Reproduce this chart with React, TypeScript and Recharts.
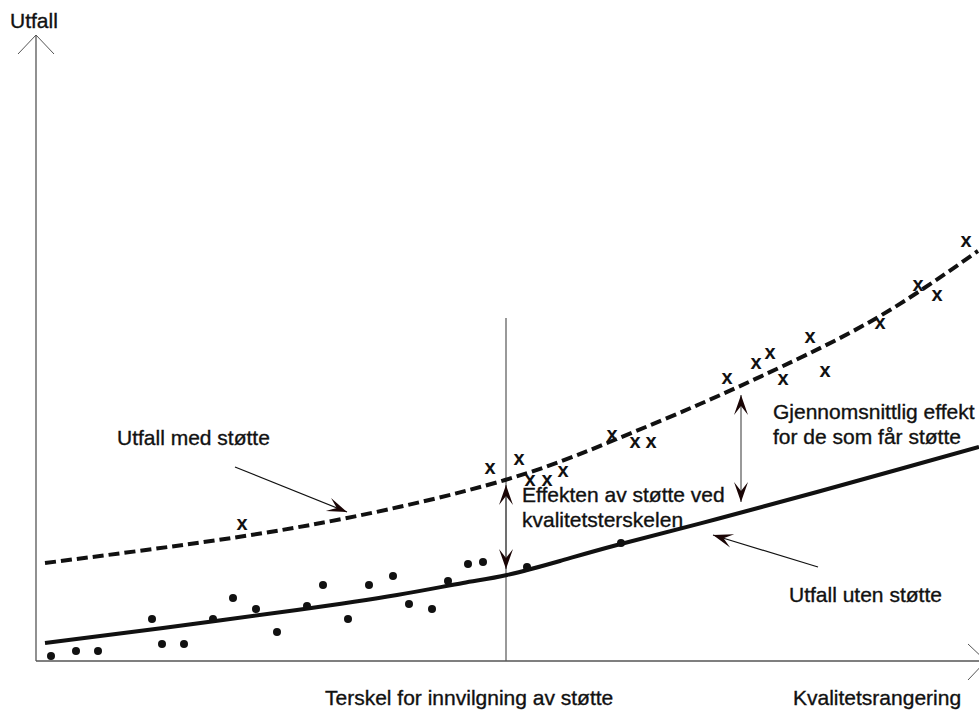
import {
  ComposedChart,
  Line,
  Scatter,
  XAxis,
  YAxis,
  ReferenceLine,
  ReferenceDot,
} from "recharts";

const WIDTH = 979;
const HEIGHT = 711;
const INK = "#111";
const HEAD = "#1a0505";
const AXIS = "#555";
const FONT = '"Liberation Sans", Arial, sans-serif';

// quality rank runs 0..943 to the right, outcome 0..623 upwards
const X_MAX = 943;
const Y_MAX = 623;
const THRESHOLD = 470;

const withSupportRank = [9, 161, 311, 469, 576, 664, 747, 844, 942];
const withSupportLevel = [98, 118, 143, 181, 220, 257, 295, 345, 410];

const withoutSupportRank = [9, 127, 261, 361, 427, 471, 524, 581, 681, 781, 864, 943];
const withoutSupportLevel = [18, 33, 51, 66, 78, 86, 100, 116, 142, 169, 192, 214];

// supported projects (x markers)
const crossRank = [206, 454, 483, 494, 511, 527, 576, 599, 615, 691, 720, 734, 747, 774, 789, 844, 882, 901, 930];
const crossLevel = [137, 193, 202, 181, 181, 190, 226, 219, 219, 283, 298, 308, 282, 324, 290, 338, 376, 366, 420];

// unsupported projects (dots)
const dotRank = [15, 40, 62, 116, 126, 148, 177, 197, 220, 241, 271, 287, 312, 333, 357, 373, 396, 412, 432, 447, 491, 585];
const dotLevel = [5, 10, 10, 42, 17, 17, 42, 63, 52, 29, 55, 76, 42, 76, 85, 57, 52, 80, 97, 99, 94, 118];

type Label = { text: string; x: number; y: number };
const labels: Label[] = [
  { text: "Utfall", x: -26, y: 633 },
  { text: "Utfall med støtte", x: 81, y: 216 },
  { text: "Gjennomsnittlig effekt", x: 737, y: 242 },
  { text: "for de som får støtte", x: 737, y: 217 },
  { text: "Effekten av støtte ved", x: 486, y: 159 },
  { text: "kvalitetsterskelen", x: 486, y: 134 },
  { text: "Utfall uten støtte", x: 753, y: 59 },
  { text: "Terskel for innvilgning av støtte", x: 289, y: -44 },
  { text: "Kvalitetsrangering", x: 757, y: -44 },
];

const zip = (xs: number[], ys: number[]) => xs.map((x, i) => ({ x, y: ys[i] }));

function headPath(tx: number, ty: number, fx: number, fy: number, len = 20, half = 7, notch = 11) {
  const d = Math.hypot(tx - fx, ty - fy) || 1;
  const ux = (tx - fx) / d;
  const uy = (ty - fy) / d;
  const px = -uy;
  const py = ux;
  const bx = tx - ux * len;
  const by = ty - uy * len;
  const nx = tx - ux * notch;
  const ny = ty - uy * notch;
  return `M${tx},${ty} L${bx + px * half},${by + py * half} L${nx},${ny} L${bx - px * half},${by - py * half} Z`;
}

const pointerShape = (p: any) => (
  <g>
    <line x1={p.x1} y1={p.y1} x2={p.x2} y2={p.y2} stroke={INK} strokeWidth={1.2} />
    <path d={headPath(p.x2, p.y2, p.x1, p.y1)} fill={HEAD} />
  </g>
);

const doubleShape = (p: any) => (
  <g>
    <line x1={p.x1} y1={p.y1} x2={p.x2} y2={p.y2} stroke={AXIS} strokeWidth={1.2} />
    <path d={headPath(p.x1, p.y1, p.x2, p.y2)} fill={HEAD} />
    <path d={headPath(p.x2, p.y2, p.x1, p.y1)} fill={HEAD} />
  </g>
);

export default function App() {
  const withSupport = zip(withSupportRank, withSupportLevel);
  const withoutSupport = zip(withoutSupportRank, withoutSupportLevel);
  const crosses = zip(crossRank, crossLevel);
  const dots = zip(dotRank, dotLevel);

  return (
    <div style={{ position: "absolute", left: 0, top: 0, width: WIDTH, height: HEIGHT, background: "#fff" }}>
      <ComposedChart
        width={WIDTH}
        height={HEIGHT}
        margin={{ top: 38, right: 0, bottom: 50, left: 36 }}
      >
        <XAxis type="number" dataKey="x" domain={[0, X_MAX]} hide allowDataOverflow />
        <YAxis type="number" dataKey="y" domain={[0, Y_MAX]} hide allowDataOverflow />

        {/* axes with open arrow heads */}
        <ReferenceLine segment={[{ x: 0, y: 0 }, { x: 0, y: 626 }]} stroke={AXIS} strokeWidth={1.3} ifOverflow="visible" />
        <ReferenceLine segment={[{ x: -18, y: 607 }, { x: 0, y: 626 }]} stroke={AXIS} strokeWidth={1} ifOverflow="visible" />
        <ReferenceLine segment={[{ x: 18, y: 607 }, { x: 0, y: 626 }]} stroke={AXIS} strokeWidth={1} ifOverflow="visible" />
        <ReferenceLine segment={[{ x: 0, y: 0 }, { x: 950, y: 0 }]} stroke={AXIS} strokeWidth={1.3} ifOverflow="visible" />
        <ReferenceLine segment={[{ x: 932, y: 17 }, { x: 950, y: 0 }]} stroke={AXIS} strokeWidth={1} ifOverflow="visible" />
        <ReferenceLine segment={[{ x: 932, y: -19 }, { x: 950, y: 0 }]} stroke={AXIS} strokeWidth={1} ifOverflow="visible" />

        {/* threshold */}
        <ReferenceLine segment={[{ x: THRESHOLD, y: 0 }, { x: THRESHOLD, y: 343 }]} stroke={AXIS} strokeWidth={1.2} ifOverflow="visible" />

        <Line
          data={withSupport}
          dataKey="y"
          type="natural"
          stroke={INK}
          strokeWidth={4}
          strokeDasharray="11 5"
          dot={false}
          activeDot={false}
          isAnimationActive={false}
        />
        <Line
          data={withoutSupport}
          dataKey="y"
          type="natural"
          stroke={INK}
          strokeWidth={4}
          dot={false}
          activeDot={false}
          isAnimationActive={false}
        />

        <Scatter
          data={dots}
          dataKey="y"
          isAnimationActive={false}
          shape={(p: any) => <circle cx={p.cx} cy={p.cy} r={4} fill={INK} />}
        />
        <Scatter
          data={crosses}
          dataKey="y"
          isAnimationActive={false}
          shape={(p: any) => (
            <text
              x={p.cx}
              y={p.cy + 5.5}
              textAnchor="middle"
              fontFamily={FONT}
              fontSize={20}
              fontWeight="bold"
              fill={INK}
            >
              x
            </text>
          )}
        />

        {/* effect arrows */}
        <ReferenceLine segment={[{ x: THRESHOLD, y: 176 }, { x: THRESHOLD, y: 92 }]} ifOverflow="visible" shape={doubleShape} />
        <ReferenceLine segment={[{ x: 705, y: 266 }, { x: 705, y: 159 }]} ifOverflow="visible" shape={doubleShape} />

        {/* label pointers */}
        <ReferenceLine segment={[{ x: 199, y: 194 }, { x: 311, y: 149 }]} ifOverflow="visible" shape={pointerShape} />
        <ReferenceLine segment={[{ x: 782, y: 94 }, { x: 677, y: 126 }]} ifOverflow="visible" shape={pointerShape} />

        {labels.map((l) => (
          <ReferenceDot
            key={l.text}
            x={l.x}
            y={l.y}
            ifOverflow="visible"
            shape={(p: any) => (
              <text
                x={p.cx}
                y={p.cy}
                fontFamily={FONT}
                fontSize={21}
                fill={INK}
                stroke={INK}
                strokeWidth={0.35}
              >
                {l.text}
              </text>
            )}
          />
        ))}
      </ComposedChart>
    </div>
  );
}
